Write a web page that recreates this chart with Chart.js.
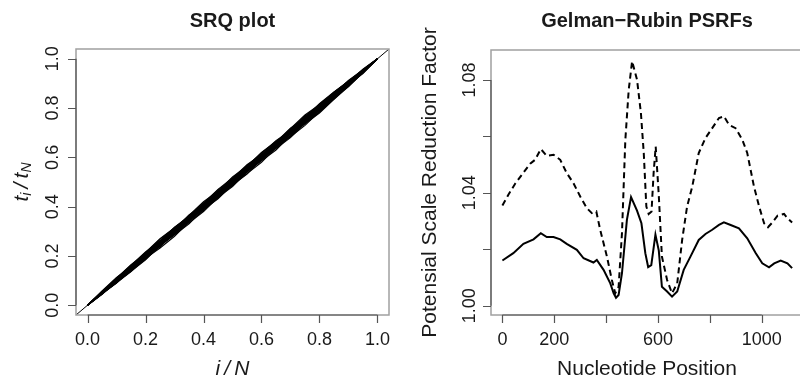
<!DOCTYPE html>
<html>
<head>
<meta charset="utf-8">
<script src="https://cdn.jsdelivr.net/npm/chart.js@4/dist/chart.umd.min.js"></script>
<style>
  html, body { margin: 0; padding: 0; background: #fff; overflow: hidden; width: 800px; height: 381px; }
  #left { position: absolute; left: 0; top: 0; width: 400px; height: 381px; }
  #right { position: absolute; left: 400px; top: 0; width: 420px; height: 381px; }
</style>
</head>
<body>
<div id="left"><canvas id="srq"></canvas></div>
<div id="right"><canvas id="psrf"></canvas></div>
<script>
// ---- SRQ plot data ----
const srqX = [0, 0.05, 0.10, 0.15, 0.20, 0.25, 0.30, 0.35, 0.40, 0.45, 0.50,
              0.55, 0.60, 0.65, 0.70, 0.75, 0.80, 0.85, 0.90, 0.95, 1];
const srqRuns = [
  [0, 0.054, 0.096, 0.153, 0.205, 0.252, 0.296, 0.355, 0.402, 0.455, 0.503, 0.548, 0.596, 0.655, 0.702, 0.746, 0.795, 0.853, 0.902, 0.948, 1],
  [0, 0.045, 0.102, 0.144, 0.197, 0.256, 0.308, 0.352, 0.409, 0.462, 0.506, 0.553, 0.598, 0.654, 0.710, 0.755, 0.797, 0.842, 0.898, 0.951, 1],
  [0, 0.058, 0.112, 0.156, 0.202, 0.246, 0.292, 0.347, 0.404, 0.452, 0.494, 0.540, 0.596, 0.652, 0.695, 0.738, 0.785, 0.840, 0.894, 0.947, 1],
  [0, 0.048, 0.092, 0.140, 0.194, 0.248, 0.304, 0.360, 0.414, 0.458, 0.502, 0.546, 0.602, 0.658, 0.704, 0.752, 0.806, 0.860, 0.904, 0.956, 1],
  [0, 0.053, 0.106, 0.160, 0.212, 0.258, 0.302, 0.346, 0.398, 0.456, 0.512, 0.566, 0.610, 0.654, 0.698, 0.744, 0.798, 0.854, 0.908, 0.952, 1],
  [0, 0.044, 0.096, 0.152, 0.208, 0.262, 0.306, 0.348, 0.392, 0.444, 0.502, 0.554, 0.596, 0.640, 0.688, 0.744, 0.802, 0.856, 0.898, 0.942, 1],
  [0, 0.052, 0.098, 0.144, 0.190, 0.242, 0.288, 0.342, 0.396, 0.440, 0.488, 0.544, 0.598, 0.642, 0.686, 0.740, 0.796, 0.844, 0.888, 0.944, 1],
  [0, 0.056, 0.104, 0.158, 0.204, 0.260, 0.314, 0.362, 0.406, 0.452, 0.508, 0.562, 0.606, 0.664, 0.708, 0.754, 0.810, 0.856, 0.902, 0.954, 1],
  [0, 0.046, 0.090, 0.146, 0.202, 0.248, 0.302, 0.356, 0.402, 0.446, 0.492, 0.548, 0.606, 0.660, 0.706, 0.762, 0.808, 0.852, 0.896, 0.940, 1],
  [0, 0.051, 0.103, 0.148, 0.194, 0.238, 0.292, 0.348, 0.404, 0.460, 0.506, 0.552, 0.608, 0.652, 0.696, 0.748, 0.792, 0.838, 0.892, 0.946, 1],
  [0, 0.047, 0.106, 0.158, 0.210, 0.254, 0.298, 0.354, 0.410, 0.456, 0.500, 0.542, 0.588, 0.644, 0.702, 0.758, 0.804, 0.848, 0.906, 0.958, 1],
  [0, 0.055, 0.100, 0.146, 0.202, 0.256, 0.310, 0.356, 0.400, 0.444, 0.498, 0.556, 0.604, 0.648, 0.706, 0.752, 0.812, 0.864, 0.908, 0.952, 1],
  [0, 0.054, 0.108, 0.162, 0.216, 0.260, 0.304, 0.364, 0.420, 0.462, 0.506, 0.566, 0.610, 0.654, 0.712, 0.768, 0.810, 0.858, 0.906, 0.952, 1],
  [0, 0.047, 0.094, 0.138, 0.184, 0.242, 0.286, 0.330, 0.390, 0.446, 0.488, 0.532, 0.592, 0.636, 0.680, 0.738, 0.794, 0.840, 0.894, 0.947, 1],
  [0, 0.052, 0.106, 0.150, 0.194, 0.238, 0.296, 0.356, 0.412, 0.468, 0.510, 0.550, 0.592, 0.652, 0.712, 0.756, 0.796, 0.838, 0.892, 0.948, 1],
  [0, 0.046, 0.098, 0.156, 0.212, 0.268, 0.312, 0.352, 0.392, 0.436, 0.494, 0.554, 0.614, 0.668, 0.708, 0.748, 0.790, 0.846, 0.904, 0.953, 1],
  [0, 0.053, 0.109, 0.164, 0.208, 0.252, 0.308, 0.366, 0.408, 0.448, 0.504, 0.562, 0.620, 0.664, 0.706, 0.764, 0.816, 0.862, 0.906, 0.953, 1],
  [0, 0.048, 0.091, 0.136, 0.192, 0.248, 0.290, 0.334, 0.380, 0.438, 0.482, 0.540, 0.598, 0.642, 0.684, 0.730, 0.786, 0.842, 0.890, 0.946, 1],
  [0, 0.051, 0.096, 0.142, 0.200, 0.258, 0.316, 0.360, 0.402, 0.456, 0.514, 0.570, 0.612, 0.656, 0.698, 0.754, 0.808, 0.852, 0.896, 0.948, 1],
  [0, 0.050, 0.104, 0.158, 0.204, 0.244, 0.288, 0.346, 0.404, 0.446, 0.486, 0.544, 0.602, 0.644, 0.688, 0.748, 0.806, 0.864, 0.910, 0.954, 1],
  [0, 0.054, 0.110, 0.156, 0.214, 0.270, 0.314, 0.358, 0.414, 0.470, 0.516, 0.558, 0.602, 0.660, 0.716, 0.772, 0.814, 0.856, 0.902, 0.950, 1],
  [0, 0.046, 0.092, 0.146, 0.190, 0.232, 0.280, 0.338, 0.384, 0.442, 0.502, 0.544, 0.586, 0.630, 0.690, 0.744, 0.784, 0.838, 0.896, 0.948, 1],
  [0, 0.052, 0.098, 0.154, 0.210, 0.254, 0.296, 0.340, 0.398, 0.458, 0.502, 0.542, 0.596, 0.658, 0.704, 0.742, 0.798, 0.856, 0.912, 0.955, 1],
  [0, 0.049, 0.103, 0.148, 0.196, 0.252, 0.306, 0.350, 0.394, 0.452, 0.508, 0.562, 0.606, 0.646, 0.702, 0.760, 0.802, 0.844, 0.900, 0.952, 1],
  [0, 0.053, 0.106, 0.160, 0.206, 0.262, 0.306, 0.348, 0.406, 0.462, 0.520, 0.564, 0.618, 0.662, 0.718, 0.758, 0.818, 0.866, 0.908, 0.954, 1],
  [0, 0.047, 0.094, 0.140, 0.186, 0.244, 0.302, 0.344, 0.388, 0.432, 0.490, 0.534, 0.580, 0.640, 0.696, 0.736, 0.780, 0.836, 0.888, 0.944, 1]
];
const diagLine = [-0.04, 1.04];
const srqTicks = [0, 0.2, 0.4, 0.6, 0.8, 1.0];
const srqTickLabels = ['0.0', '0.2', '0.4', '0.6', '0.8', '1.0'];

// ---- Gelman-Rubin data ----
const posDashed = [0, 23, 49, 75, 107, 126, 148, 171, 197, 223, 248, 274, 300, 326, 345, 362, 377, 403, 422, 435,
  448, 461, 474, 487, 500, 519, 534, 545, 555, 564, 575, 583, 591, 603, 615, 635, 654, 674, 693, 712,
  732, 757, 783, 809, 835, 854, 874, 899, 925, 944, 970, 990, 1009, 1024, 1041, 1061, 1086, 1099, 1117];
const psrfDashed = [1.0355, 1.0393, 1.0432, 1.0464, 1.0503, 1.0517, 1.0555, 1.0531, 1.0535, 1.0517, 1.0470, 1.0434, 1.0387, 1.0345, 1.0328, 1.0334, 1.0269, 1.0174, 1.0091, 1.0044,
  1.0067, 1.0257, 1.0588, 1.0765, 1.0866, 1.0801, 1.0683, 1.0541, 1.0351, 1.0325, 1.0334, 1.0470, 1.0564, 1.0390, 1.0174, 1.0091, 1.0044, 1.0079, 1.0233, 1.0351,
  1.0422, 1.0541, 1.0594, 1.0629, 1.0665, 1.0671, 1.0641, 1.0629, 1.0588, 1.0541, 1.0422, 1.0351, 1.0292, 1.0278, 1.0295, 1.0319, 1.0325, 1.0310, 1.0295];
const posSolid = [0, 42, 81, 120, 148, 171, 197, 223, 248, 287, 313, 351, 364, 390, 416, 429, 438, 448, 461, 480,
  496, 519, 536, 551, 562, 574, 590, 603, 615, 635, 654, 674, 699, 725, 757, 783, 809, 835, 854, 880,
  912, 944, 977, 1002, 1028, 1048, 1073, 1099, 1117];
const psrfSolid = [1.0160, 1.0186, 1.0219, 1.0235, 1.0257, 1.0243, 1.0243, 1.0235, 1.0219, 1.0198, 1.0168, 1.0153, 1.0162, 1.0127, 1.0079, 1.0044, 1.0028, 1.0038, 1.0115, 1.0304,
  1.0385, 1.0337, 1.0292, 1.0186, 1.0137, 1.0144, 1.0252, 1.0195, 1.0067, 1.0050, 1.0032, 1.0050, 1.0127, 1.0174, 1.0233, 1.0254, 1.0269, 1.0286, 1.0295, 1.0286,
  1.0274, 1.0239, 1.0186, 1.0150, 1.0136, 1.0150, 1.0160, 1.0150, 1.0133];
const posTicks = [0, 200, 400, 600, 800, 1000];
const posTickLabels = ['0', '200', '', '600', '', '1000'];
const psrfTicks = [1.00, 1.02, 1.04, 1.06, 1.08];
const psrfTickLabels = ['1.00', '', '1.04', '', '1.08'];

const FONT = '"Liberation Sans", Arial, Helvetica, sans-serif';
const pts = (xs, ys) => xs.map((x, i) => ({ x, y: ys[i] }));

// draws an R-style frame: grey box, outward ticks, rotated y labels, titles
function rFrame(cfg) {
  return {
    id: 'rframe',
    afterDraw(chart) {
      const ctx = chart.ctx, a = chart.chartArea;
      const xs = chart.scales.x, ys = chart.scales.y;
      ctx.save();
      ctx.strokeStyle = '#a0a0a0';
      ctx.lineWidth = 1.5;
      ctx.strokeRect(a.left, a.top, a.right - a.left, a.bottom - a.top);

      ctx.strokeStyle = '#555';
      ctx.lineWidth = 1.2;
      ctx.beginPath();
      const xf = xs.getPixelForValue(cfg.xTicks[0]), xl = xs.getPixelForValue(cfg.xTicks[cfg.xTicks.length - 1]);
      ctx.moveTo(xf, a.bottom); ctx.lineTo(xl, a.bottom);
      cfg.xTicks.forEach(v => {
        const p = Math.round(xs.getPixelForValue(v)) + 0.5;
        ctx.moveTo(p, a.bottom); ctx.lineTo(p, a.bottom + 8);
      });
      const yf = ys.getPixelForValue(cfg.yTicks[0]), yl = ys.getPixelForValue(cfg.yTicks[cfg.yTicks.length - 1]);
      ctx.moveTo(a.left, yf); ctx.lineTo(a.left, yl);
      cfg.yTicks.forEach(v => {
        const p = Math.round(ys.getPixelForValue(v)) + 0.5;
        ctx.moveTo(a.left, p); ctx.lineTo(a.left - 8, p);
      });
      ctx.stroke();

      ctx.fillStyle = '#1a1a1a';
      ctx.font = '18px ' + FONT;
      ctx.textAlign = 'center';
      ctx.textBaseline = 'middle';
      cfg.xTicks.forEach((v, i) => {
        if (cfg.xLabels[i]) ctx.fillText(cfg.xLabels[i], xs.getPixelForValue(v), 340);
      });
      cfg.yTicks.forEach((v, i) => {
        if (!cfg.yLabels[i]) return;
        ctx.save();
        ctx.translate(cfg.yLabelX, ys.getPixelForValue(v));
        ctx.rotate(-Math.PI / 2);
        ctx.fillText(cfg.yLabels[i], 0, 0);
        ctx.restore();
      });

      const cx = (a.left + a.right) / 2;
      ctx.font = 'bold 20px ' + FONT;
      ctx.fillText(cfg.title, cx, 21);

      cfg.xTitle(ctx, cx, 369);
      ctx.save();
      ctx.translate(cfg.yTitleX, (a.top + a.bottom) / 2);
      ctx.rotate(-Math.PI / 2);
      cfg.yTitle(ctx);
      ctx.restore();
      ctx.restore();
    }
  };
}

// text pieces drawn one after the other, centred on the given point
function runs(ctx, parts, x, y) {
  let w = 0;
  parts.forEach(p => { ctx.font = p.f; w += ctx.measureText(p.t).width; });
  let cur = x - w / 2;
  ctx.textAlign = 'left';
  parts.forEach(p => {
    ctx.font = p.f;
    ctx.fillText(p.t, cur, y + (p.dy || 0));
    cur += ctx.measureText(p.t).width;
  });
  ctx.textAlign = 'center';
}

const srqSets = srqRuns.map(r => ({
  data: pts(srqX, r),
  borderColor: '#000',
  borderWidth: 1.2,
  pointRadius: 0,
  showLine: true,
  fill: false
}));
srqSets.push({
  data: pts(diagLine, diagLine),
  borderColor: '#000',
  borderWidth: 1,
  pointRadius: 0,
  showLine: true,
  fill: false
});

new Chart(document.getElementById('srq'), {
  type: 'scatter',
  data: { datasets: srqSets },
  options: {
    responsive: true,
    maintainAspectRatio: false,
    animation: false,
    events: [],
    layout: { padding: { left: 76, right: 11, top: 49, bottom: 66 } },
    plugins: { legend: { display: false }, tooltip: { enabled: false } },
    scales: {
      x: { type: 'linear', display: false, min: -0.04, max: 1.04 },
      y: { type: 'linear', display: false, min: -0.04, max: 1.04 }
    }
  },
  plugins: [rFrame({
    xTicks: srqTicks, xLabels: srqTickLabels,
    yTicks: srqTicks, yLabels: srqTickLabels,
    yLabelX: 53, yTitleX: 22,
    title: 'SRQ plot',
    xTitle: (ctx, x, y) => runs(ctx, [
      { t: 'i', f: 'italic 21px ' + FONT },
      { t: '\u2009/\u2009', f: 'italic 21px ' + FONT },
      { t: 'N', f: 'italic 21px ' + FONT }
    ], x, y),
    yTitle: ctx => runs(ctx, [
      { t: 't', f: 'italic 21px ' + FONT },
      { t: 'i', f: 'italic 14px ' + FONT, dy: 5 },
      { t: '\u2009/\u2009', f: 'italic 21px ' + FONT },
      { t: 't', f: 'italic 21px ' + FONT },
      { t: 'N', f: 'italic 14px ' + FONT, dy: 5 }
    ], 0, 0)
  })]
});

new Chart(document.getElementById('psrf'), {
  type: 'scatter',
  data: {
    datasets: [
      {
        data: pts(posDashed, psrfDashed),
        borderColor: '#000',
        borderWidth: 2,
        borderDash: [6, 4],
        pointRadius: 0,
        showLine: true,
        fill: false
      },
      {
        data: pts(posSolid, psrfSolid),
        borderColor: '#000',
        borderWidth: 2,
        pointRadius: 0,
        showLine: true,
        fill: false
      }
    ]
  },
  options: {
    responsive: true,
    maintainAspectRatio: false,
    animation: false,
    events: [],
    layout: { padding: { left: 91, right: 17, top: 50, bottom: 66 } },
    plugins: { legend: { display: false }, tooltip: { enabled: false } },
    scales: {
      x: { type: 'linear', display: false, min: -44, max: 1159 },
      y: { type: 'linear', display: false, min: 0.9967, max: 1.0906 }
    }
  },
  plugins: [rFrame({
    xTicks: posTicks, xLabels: posTickLabels,
    yTicks: psrfTicks, yLabels: psrfTickLabels,
    yLabelX: 70, yTitleX: 30,
    title: 'Gelman\u2212Rubin PSRFs',
    xTitle: (ctx, x, y) => { ctx.font = '21px ' + FONT; ctx.fillText('Nucleotide Position', x, y); },
    yTitle: ctx => { ctx.font = '21px ' + FONT; ctx.fillText('Potensial Scale Reduction Factor', 0, 0); }
  })]
});
</script>
</body>
</html>
